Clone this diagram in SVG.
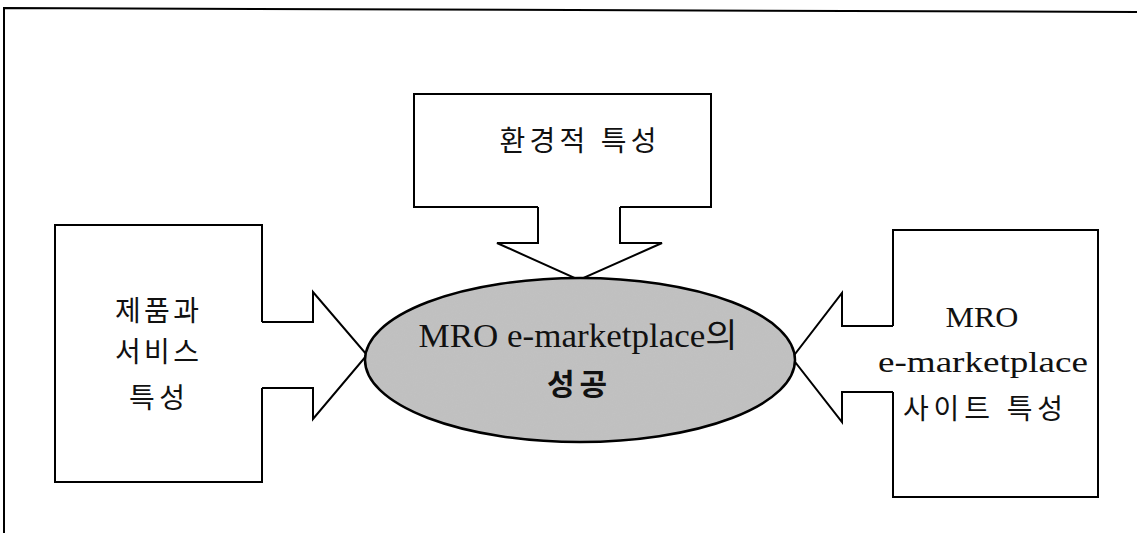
<svg xmlns="http://www.w3.org/2000/svg" width="1137" height="533" viewBox="0 0 1137 533">
<style>
.ln{fill:none;stroke:#000;stroke-width:2;stroke-linejoin:miter}
.kt{font-family:"Liberation Serif","Noto Sans CJK KR",serif;font-size:28px;fill:#111;text-anchor:middle}
.et{font-family:"Liberation Serif","Noto Sans CJK KR",serif;fill:#111;text-anchor:middle}
</style>
<defs>
<filter id="grain" x="0" y="0" width="100%" height="100%">
<feTurbulence type="fractalNoise" baseFrequency="0.9" numOctaves="2" seed="3" result="n"/>
<feColorMatrix in="n" type="matrix" values="0 0 0 0 0.5  0 0 0 0 0.5  0 0 0 0 0.5  0 0 0 0.5 0" result="g"/>
<feComposite in="g" in2="SourceGraphic" operator="in" result="gi"/>
<feMerge><feMergeNode in="SourceGraphic"/><feMergeNode in="gi"/></feMerge>
</filter>
</defs>
<rect width="1137" height="533" fill="#fff"/>
<g id="frame">
<path class="ln" d="M4,533 L4,8 L1137,12"/>
</g>
<g id="connectors">
<path class="ln" d="M538,207 L538,243 L497,243 L579,280 L662,243 L620,243 L620,207"/>
<path class="ln" d="M262,322 L313,322 L313,292 L367,355 L313,419 L313,388 L262,388"/>
<path class="ln" d="M893,326 L842,326 L842,293 L792,358 L842,422 L842,392 L893,392"/>
</g>
<g id="node-env">
<path class="ln" d="M538,207 L414,207 L414,94 L711,94 L711,207 L620,207"/>
<text class="kt" x="578" y="151" textLength="157" lengthAdjust="spacing">환경적 특성</text>
</g>
<g id="node-product">
<path class="ln" d="M262,322 L262,225 L55,225 L55,482 L262,482 L262,388"/>
<text class="kt" x="157" y="321" textLength="84" lengthAdjust="spacing">제품과</text>
<text class="kt" x="157" y="362" textLength="84" lengthAdjust="spacing">서비스</text>
<text class="kt" x="157" y="408" textLength="56" lengthAdjust="spacing">특성</text>
</g>
<g id="node-site">
<path class="ln" d="M893,326 L893,230 L1098,230 L1098,497 L893,497 L893,392"/>
<text class="et" x="982" y="327" font-size="29" textLength="73" lengthAdjust="spacingAndGlyphs">MRO</text>
<text class="et" x="983" y="372" font-size="30" textLength="210" lengthAdjust="spacingAndGlyphs">e-marketplace</text>
<text class="kt" x="983" y="419" textLength="160" lengthAdjust="spacing">사이트 특성</text>
</g>
<g id="node-success">
<ellipse cx="580" cy="360" rx="215" ry="82" fill="#c2c2c2" filter="url(#grain)"/>
<ellipse cx="580" cy="360" rx="215" ry="82" fill="none" stroke="#000" stroke-width="2.5"/>
<text class="et" x="578" y="347" font-size="33" textLength="319" lengthAdjust="spacingAndGlyphs">MRO e-marketplace의</text>
<text class="et" x="577" y="395" font-size="30" font-weight="bold" textLength="60" lengthAdjust="spacing">성공</text>
</g>
</svg>
